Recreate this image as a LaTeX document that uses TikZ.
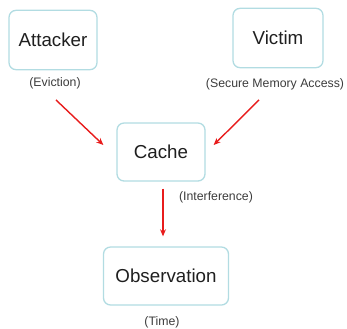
\documentclass[tikz,border=0pt]{standalone}
\usepackage{fontspec}
\setmainfont{Liberation Sans}
\usepackage{tikz}
\usetikzlibrary{calc,arrows.meta}
\definecolor{boxline}{RGB}{178,220,226}
\definecolor{arrowred}{RGB}{232,28,28}
\definecolor{labelgray}{RGB}{60,60,60}
\tikzstyle{box}=[draw=boxline, line width=1.1pt, rounded corners=6pt, fill=white, text=black!88, font=\fontsize{16}{18}\selectfont, anchor=center, minimum height=1.78cm]
\tikzstyle{note}=[text=labelgray, font=\fontsize{10.5}{12}\selectfont, anchor=center, inner sep=0pt]
\tikzstyle{arr}=[draw=arrowred, line width=1.2pt, -{Stealth[length=6pt, width=5pt]}]

\begin{document}
\begin{tikzpicture}[x=0.03cm, y=-0.03cm]
	\useasboundingbox (0,0) rectangle (347,328);
	\node(attacker)[box, minimum width=2.64cm] at (53, 40) {Attacker};
	\node(victim)[box, minimum width=2.7cm] at (278, 38) {Victim};
	\node(cache)[box, minimum width=2.64cm, minimum height=1.74cm] at (161, 152) {Cache};
	\node(observation)[box, minimum width=3.75cm, minimum height=1.74cm] at (166, 276) {Observation};
	\node(eviction)[note] at (55, 83) {(Eviction)};
	\node(secure)[note] at (275, 84) {(Secure Memory Access)};
	\node(interference)[note] at (216, 197) {(Interference)};
	\node(time)[note] at (162, 322) {(Time)};
	\draw[arr] ([shift={(1,11)}]eviction.south) -- ([shift={(-13,-7)}]cache.west);
	\draw[arr] ([shift={(-16,10)}]secure.south) -- ([shift={(8,-7)}]cache.east);
	\draw[arr] ([shift={(2,7)}]cache.south) -- ([shift={(-3,-10)}]observation.north);
\end{tikzpicture}
\end{document}
